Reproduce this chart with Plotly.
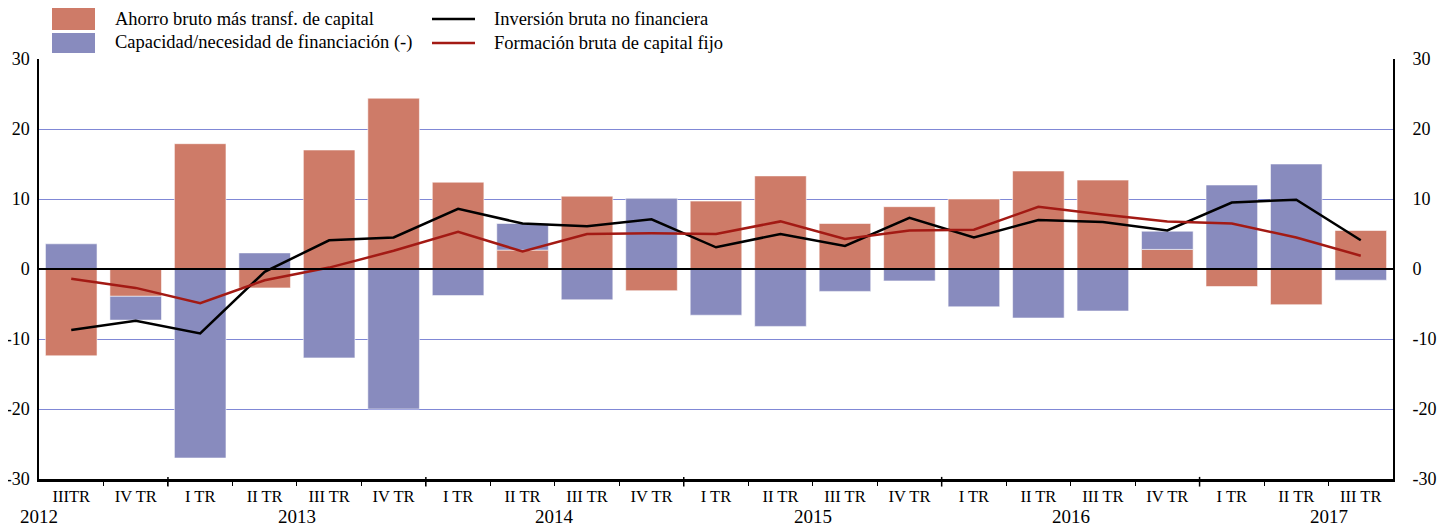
import plotly.graph_objects as go

# ----------------------------------------------------
# Data (% of GDP)
# ----------------------------------------------------
quarters = ["IIITR", "IV TR",
            "I TR", "II TR", "III TR", "IV TR",
            "I TR", "II TR", "III TR", "IV TR",
            "I TR", "II TR", "III TR", "IV TR",
            "I TR", "II TR", "III TR", "IV TR",
            "I TR", "II TR", "III TR"]
years = ["2012", "2013", "2014", "2015", "2016", "2017"]

ahorro = [-12.4, -3.9, 17.9, -2.7, 17.0, 24.4, 12.4, 2.7, 10.4, -3.1, 9.7,
          13.3, 6.5, 8.9, 10.0, 14.0, 12.7, 2.8, -2.5, -5.1, 5.5]
capacidad = [3.6, -3.4, -27.0, 2.3, -12.7, -20.0, -3.8, 3.8, -4.4, 10.1, -6.6,
             -8.2, -3.2, -1.7, -5.4, -7.0, -6.0, 2.6, 12.0, 15.0, -1.6]
inversion = [-8.7, -7.4, -9.2, -0.4, 4.1, 4.5, 8.6, 6.5, 6.1, 7.1, 3.1,
             5.0, 3.3, 7.3, 4.5, 7.0, 6.7, 5.5, 9.5, 9.9, 4.1]
fbcf = [-1.4, -2.7, -4.9, -1.6, 0.2, 2.6, 5.3, 2.5, 5.0, 5.1, 5.0,
        6.8, 4.3, 5.5, 5.6, 8.9, 7.8, 6.8, 6.5, 4.5, 1.9]

y_ticks = [-30, -20, -10, 0, 10, 20, 30]
y_ticktext = ["-30", "-20", "-10", "0", "10", "20", "30"]

names = ["Ahorro bruto más transf. de capital",
         "Capacidad/necesidad de financiación (-)",
         "Inversión bruta no financiera",
         "Formación bruta de capital fijo"]

SALMON = "#CE7B68"
BLUE = "#888BBE"
BLACK = "#000000"
RED = "#A31A14"
GRID = "#8088D6"
FONT = "Liberation Serif, Times New Roman, serif"

# the page body has an 8px margin, so the figure is shrunk and shifted by it
OFF = 8
W, H = 1445 - OFF, 527 - OFF
L, T = 39 - OFF, 59 - OFF
R, B = W - (1393 - OFF), H - (479 - OFF)

x = list(range(len(quarters)))


def px2paper(px, py):
    # pixel position in the final screenshot -> paper coordinates
    return (px - OFF - L) / (W - L - R), (H - B - (py - OFF)) / (H - T - B)


fig = go.Figure()

fig.add_trace(go.Bar(
    x=x, y=ahorro, name=names[0], marker_color=SALMON,
    marker_line=dict(color="rgba(255,255,255,0.55)", width=1),
    showlegend=False,
))
fig.add_trace(go.Bar(
    x=x, y=capacidad, name=names[1], marker_color=BLUE,
    marker_line=dict(color="rgba(255,255,255,0.55)", width=1),
    showlegend=False,
))
fig.add_trace(go.Scatter(
    x=x, y=inversion, name=names[2], mode="lines",
    line=dict(color=BLACK, width=2.5), showlegend=False,
))
fig.add_trace(go.Scatter(
    x=x, y=fbcf, name=names[3], mode="lines",
    line=dict(color=RED, width=2.5), showlegend=False,
))
# invisible trace to activate the right-hand axis
fig.add_trace(go.Scatter(x=[x[0]], y=[0], yaxis="y2", mode="markers",
                         marker=dict(opacity=0), showlegend=False,
                         hoverinfo="skip"))

shapes = []
annotations = []

# zero line above the bars
shapes.append(dict(type="line", xref="paper", yref="y", x0=0, x1=1, y0=0, y1=0,
                   line=dict(color=BLACK, width=2), layer="above"))

# longer ticks at the year boundaries
for b in range(1, len(quarters) - 1, 4):
    shapes.append(dict(type="line", xref="x", yref="paper", x0=b + 0.5, x1=b + 0.5,
                       y0=-0.018, y1=0.005, line=dict(color=BLACK, width=1.5)))

# year labels
for k, yr in enumerate(years):
    _, ay = px2paper(0, 517)
    annotations.append(dict(text=yr, xref="x", yref="paper", x=-0.5 + 4 * k,
                            y=ay, xanchor="center", yanchor="middle",
                            showarrow=False, font=dict(size=19, family=FONT)))

# manual legend
swatches = [(52, 8, 95, 30, SALMON), (52, 33, 95, 53, BLUE)]
for x0, y0, x1, y1, c in swatches:
    a0, b0 = px2paper(x0, y1)
    a1, b1 = px2paper(x1, y0)
    shapes.append(dict(type="rect", xref="paper", yref="paper", x0=a0, x1=a1,
                       y0=b0, y1=b1, fillcolor=c, line=dict(width=0)))
for py, c in [(19, BLACK), (43, RED)]:
    a0, b0 = px2paper(432, py)
    a1, _ = px2paper(475, py)
    shapes.append(dict(type="line", xref="paper", yref="paper", x0=a0, x1=a1,
                       y0=b0, y1=b0, line=dict(color=c, width=2.5)))
for name, (px, py) in zip(names, [(113, 19), (113, 43), (492, 19), (492, 43)]):
    a, b = px2paper(px, py)
    annotations.append(dict(text=name, xref="paper", yref="paper", x=a, y=b,
                            xanchor="left", yanchor="middle", showarrow=False,
                            font=dict(size=18.5, family=FONT)))

fig.update_layout(
    width=W, height=H,
    margin=dict(l=L, r=R, t=T, b=B, autoexpand=False),
    barmode="relative",
    bargap=0.2,
    plot_bgcolor="white",
    paper_bgcolor="white",
    font=dict(family=FONT, size=18, color=BLACK),
    shapes=shapes,
    annotations=annotations,
    xaxis=dict(
        range=[-0.5, len(quarters) - 0.5], automargin=False,
        tickmode="array", tickvals=x, ticktext=quarters,
        ticks="", showgrid=False, zeroline=False,
        showline=True, linecolor=BLACK, linewidth=2.5,
        tickfont=dict(size=16.5, family=FONT),
        minor=dict(tickmode="array", tickvals=[i + 0.5 for i in x[:-1]],
                   ticks="outside", ticklen=4, tickcolor=BLACK, tickwidth=1,
                   showgrid=False),
    ),
    yaxis=dict(
        range=[-30, 30], automargin=False,
        tickmode="array", tickvals=y_ticks, ticktext=y_ticktext,
        showgrid=True, gridcolor=GRID, gridwidth=1, zeroline=False,
        showline=True, linecolor=BLACK, linewidth=1.5,
        ticks="", ticklabelstandoff=4,
        tickfont=dict(size=18, family=FONT),
    ),
    yaxis2=dict(
        range=[-30, 30], automargin=False,
        tickmode="array", tickvals=y_ticks, ticktext=y_ticktext,
        overlaying="y", side="right", showgrid=False, zeroline=False,
        showline=True, linecolor=BLACK, linewidth=2,
        ticks="", ticklabelstandoff=14,
        tickfont=dict(size=18, family=FONT),
    ),
)

fig.write_html("out.html")
